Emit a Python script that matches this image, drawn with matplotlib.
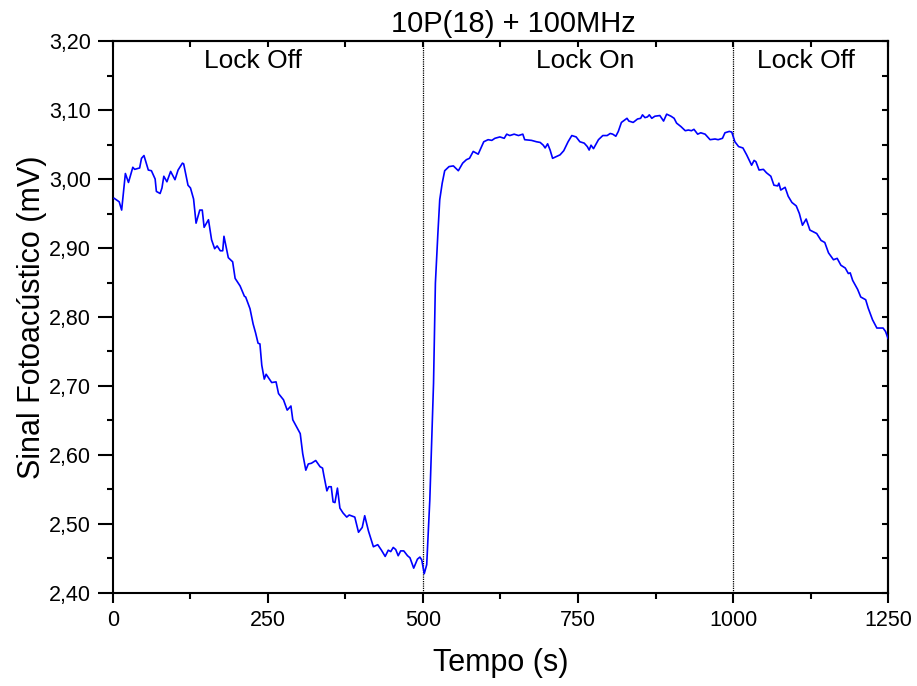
import numpy as np
import matplotlib
matplotlib.use('Agg')
import matplotlib.pyplot as plt
from matplotlib.ticker import MultipleLocator, FuncFormatter

# photoacoustic signal vs time
tempo = [2, 10, 14, 20, 25, 32, 35, 43, 46, 50, 57, 62, 68, 70, 76, 79, 82, 87, 93, 100,
         105, 112, 114, 121, 125, 130, 134, 140, 144, 147, 154, 159, 164, 168, 173, 177, 179,
         186, 193, 197, 205, 212, 214, 221, 226, 230, 234, 237, 240, 244, 247, 256, 263, 267,
         275, 281, 287, 290, 302, 306, 311, 315, 320, 327, 334, 338, 340, 345, 348, 352, 355,
         358, 362, 366, 371, 377, 381, 390, 396, 402, 406, 412, 420, 427, 433, 439, 444, 448,
         452, 456, 460, 464, 469, 475, 479, 485, 491, 495, 498, 502, 506, 511, 517, 520, 524,
         527, 531, 535, 542, 549, 557, 564, 570, 575, 581, 589, 598, 605, 611, 616, 624, 631,
         635, 640, 647, 654, 661, 664, 675, 683, 689, 694, 697, 701, 705, 709, 716, 721, 727,
         734, 740, 747, 753, 760, 765, 768, 771, 775, 783, 790, 797, 802, 806, 811, 815, 820,
         829, 832, 839, 846, 851, 854, 858, 862, 865, 869, 874, 882, 888, 893, 900, 905, 909,
         916, 923, 928, 933, 937, 943, 948, 955, 963, 971, 976, 983, 987, 994, 998, 1003, 1009,
         1016, 1022, 1030, 1034, 1037, 1042, 1049, 1054, 1061, 1066, 1072, 1074, 1077, 1084,
         1089, 1095, 1102, 1107, 1112, 1118, 1124, 1135, 1142, 1148, 1154, 1162, 1168, 1174,
         1181, 1186, 1189, 1193, 1201, 1206, 1214, 1218, 1225, 1232, 1242, 1246, 1250]
sinal = [2.972, 2.967, 2.955, 3.008, 2.995, 3.017, 3.014, 3.016, 3.030, 3.034, 3.013, 3.012,
         3.000, 2.982, 2.979, 2.987, 3.004, 2.996, 3.011, 2.999, 3.013, 3.023, 3.022, 2.991,
         2.987, 2.971, 2.936, 2.955, 2.955, 2.930, 2.941, 2.912, 2.899, 2.903, 2.896, 2.896,
         2.917, 2.886, 2.880, 2.856, 2.845, 2.830, 2.829, 2.812, 2.790, 2.777, 2.762, 2.761,
         2.730, 2.710, 2.717, 2.705, 2.706, 2.689, 2.680, 2.665, 2.671, 2.651, 2.631, 2.602,
         2.578, 2.587, 2.588, 2.592, 2.583, 2.581, 2.571, 2.548, 2.554, 2.554, 2.532, 2.531,
         2.552, 2.523, 2.516, 2.510, 2.513, 2.510, 2.488, 2.495, 2.512, 2.490, 2.467, 2.470,
         2.462, 2.453, 2.462, 2.460, 2.466, 2.463, 2.454, 2.461, 2.461, 2.454, 2.451, 2.436,
         2.449, 2.452, 2.448, 2.428, 2.441, 2.535, 2.704, 2.849, 2.921, 2.970, 2.994, 3.012,
         3.018, 3.019, 3.012, 3.023, 3.028, 3.030, 3.040, 3.036, 3.054, 3.057, 3.056, 3.059,
         3.061, 3.059, 3.065, 3.063, 3.065, 3.063, 3.065, 3.057, 3.056, 3.054, 3.053, 3.049,
         3.045, 3.051, 3.042, 3.030, 3.033, 3.035, 3.041, 3.054, 3.063, 3.061, 3.054, 3.052,
         3.047, 3.042, 3.049, 3.044, 3.057, 3.063, 3.063, 3.066, 3.065, 3.062, 3.069, 3.082,
         3.088, 3.084, 3.082, 3.087, 3.088, 3.093, 3.089, 3.090, 3.093, 3.088, 3.091, 3.092,
         3.084, 3.094, 3.091, 3.088, 3.081, 3.076, 3.070, 3.071, 3.070, 3.072, 3.065, 3.067,
         3.065, 3.057, 3.058, 3.057, 3.059, 3.067, 3.069, 3.068, 3.054, 3.047, 3.045, 3.035,
         3.020, 3.027, 3.025, 3.013, 3.014, 3.009, 3.004, 2.991, 2.990, 2.994, 2.984, 2.988,
         2.975, 2.966, 2.961, 2.950, 2.933, 2.942, 2.926, 2.921, 2.911, 2.908, 2.893, 2.883,
         2.885, 2.875, 2.871, 2.863, 2.864, 2.853, 2.840, 2.829, 2.825, 2.813, 2.796, 2.784,
         2.784, 2.779, 2.769]

limites = [500, 1000]
regioes = ['Lock Off', 'Lock On', 'Lock Off']
pos_regioes = [226, 761, 1118]

plt.rcParams['font.family'] = ['Liberation Sans', 'DejaVu Sans']
plt.rcParams['axes.linewidth'] = 1.5

fig = plt.figure(figsize=(9.17, 6.86), dpi=100)
ax = fig.add_axes([0.1232, 0.1356, 0.8452, 0.8046])

ax.plot(tempo, sinal, color='#0000ff', lw=1.2, zorder=3)
for x in limites:
    ax.axvline(x, color='black', ls=(0, (1, 0.8)), lw=0.9, zorder=2)
for txt, x in zip(regioes, pos_regioes):
    ax.text(x, 0.951, txt, transform=ax.get_xaxis_transform(), ha='center',
            va='baseline', fontsize=19)

ax.set_xlim(0, 1250)
ax.set_ylim(2.40, 3.20)
ax.xaxis.set_major_locator(MultipleLocator(250))
ax.xaxis.set_minor_locator(MultipleLocator(125))
ax.yaxis.set_major_locator(MultipleLocator(0.1))
ax.yaxis.set_minor_locator(MultipleLocator(0.05))
ax.yaxis.set_major_formatter(FuncFormatter(lambda v, p: '{:.2f}'.format(v).replace('.', ',')))
ax.tick_params(which='major', direction='out', length=7, width=1.5, labelsize=15.5, pad=5)
ax.tick_params(which='minor', direction='out', length=4, width=1.5)
ax.tick_params(axis='y', which='major', length=11)

# mirrored ticks on top and right, pointing in
top = ax.secondary_xaxis('top')
top.xaxis.set_major_locator(MultipleLocator(125))
top.tick_params(direction='in', length=4, width=1.5, labeltop=False)
right = ax.secondary_yaxis('right')
right.yaxis.set_major_locator(MultipleLocator(0.05))
right.tick_params(direction='in', length=4, width=1.5, labelright=False)

ax.set_xlabel('Tempo (s)', fontsize=22)
ax.set_ylabel('Sinal Fotoacústico (mV)', fontsize=22)
ax.xaxis.set_label_coords(0.5, -0.1)
ax.yaxis.set_label_coords(-0.085, 0.5)
ax.text(0.517, 1.0 + 9 / 552, '10P(18) + 100MHz', transform=ax.transAxes,
        ha='center', va='baseline', fontsize=21)

plt.savefig('out.png', dpi=100)
plt.close()
